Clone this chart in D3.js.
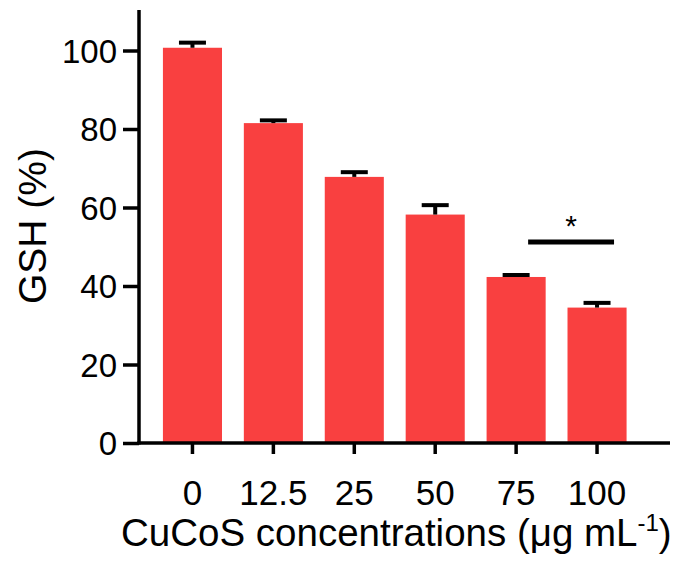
<!DOCTYPE html>
<html>
<head>
<meta charset="utf-8">
<script src="https://cdn.jsdelivr.net/npm/d3@7"></script>
<style>
html,body{margin:0;padding:0;background:#fff;}
svg text{font-family:"Liberation Sans",Arial,sans-serif;fill:#000;}
</style>
</head>
<body>
<svg id="chart" width="689" height="561"></svg>
<script>
const categories = ["0","12.5","25","50","75","100"];
const means = [100.7, 81.5, 67.8, 58.2, 42.3, 34.5];
const errors = [1.3, 0.7, 1.2, 2.4, 0.5, 1.2];
const yTicks = [0,20,40,60,80,100];
const sigPair = ["75","100"];
const sigValue = 51.2;
const sigLabel = "*";

const svg = d3.select("#chart");
const axisX0 = 139, axisX1 = 670, axisY = 443;

const y = d3.scaleLinear().domain([0, 100]).range([axisY, 50.5]);
const x = d3.scaleBand().domain(categories).range([152, 637.5]).paddingInner(0.27).paddingOuter(0.135);

const red = "#f94040";

// bars
svg.selectAll("rect.bar").data(categories).enter().append("rect")
  .attr("x", d => x(d)).attr("width", x.bandwidth())
  .attr("y", (d,i) => y(means[i])).attr("height", (d,i) => axisY - y(means[i]))
  .attr("fill", red);

// error bars (upper only)
const eb = svg.append("g").attr("stroke","#000").attr("stroke-width",4);
categories.forEach((c,i) => {
  const cx = x(c) + x.bandwidth()/2;
  eb.append("line").attr("x1",cx).attr("x2",cx).attr("y1",y(means[i])).attr("y2",y(means[i]+errors[i]));
  eb.append("line").attr("x1",cx-13.5).attr("x2",cx+13.5).attr("y1",y(means[i]+errors[i])).attr("y2",y(means[i]+errors[i]));
});

// y axis
const yAxis = svg.append("g").attr("transform",`translate(${axisX0},0)`)
  .call(d3.axisLeft(y).tickValues(yTicks).tickSize(16).tickPadding(6));
yAxis.select(".domain").remove();
yAxis.selectAll(".tick line").attr("stroke","#000").attr("stroke-width",3.5);
yAxis.selectAll(".tick text").attr("font-size",33).attr("dy","0.36em");
svg.append("line").attr("x1",axisX0).attr("x2",axisX0).attr("y1",10).attr("y2",axisY+1.5)
  .attr("stroke","#000").attr("stroke-width",3.5);

// x axis
const xAxis = svg.append("g").attr("transform",`translate(0,${axisY})`)
  .call(d3.axisBottom(x).tickSize(11).tickPadding(26));
xAxis.select(".domain").remove();
xAxis.selectAll(".tick line").attr("stroke","#000").attr("stroke-width",3.5);
xAxis.selectAll(".tick text").attr("font-size",35);
svg.append("line").attr("x1",axisX0-1.75).attr("x2",axisX1).attr("y1",axisY).attr("y2",axisY)
  .attr("stroke","#000").attr("stroke-width",3.5);

// significance
const sx1 = x(sigPair[0]) + x.bandwidth()/2 + 12;
const sx2 = x(sigPair[1]) + x.bandwidth()/2 + 17;
svg.append("line").attr("x1",sx1).attr("x2",sx2).attr("y1",y(sigValue)).attr("y2",y(sigValue))
  .attr("stroke","#000").attr("stroke-width",5);
svg.append("text").attr("x",(sx1+sx2)/2).attr("y",y(sigValue)-6).attr("text-anchor","middle")
  .attr("font-size",30).text(sigLabel);

// axis titles
const xt = svg.append("text").attr("x",121).attr("y",546).attr("text-anchor","start").attr("font-size",38.5);
xt.append("tspan").text("CuCoS concentrations (μg mL");
xt.append("tspan").attr("dy",-15).attr("font-size",24).text("-1");
xt.append("tspan").attr("dy",15).text(")");

svg.append("text").attr("transform","translate(46,226) rotate(-90)").attr("text-anchor","middle")
  .attr("font-size",39).text("GSH (%)");
</script>
</body>
</html>
